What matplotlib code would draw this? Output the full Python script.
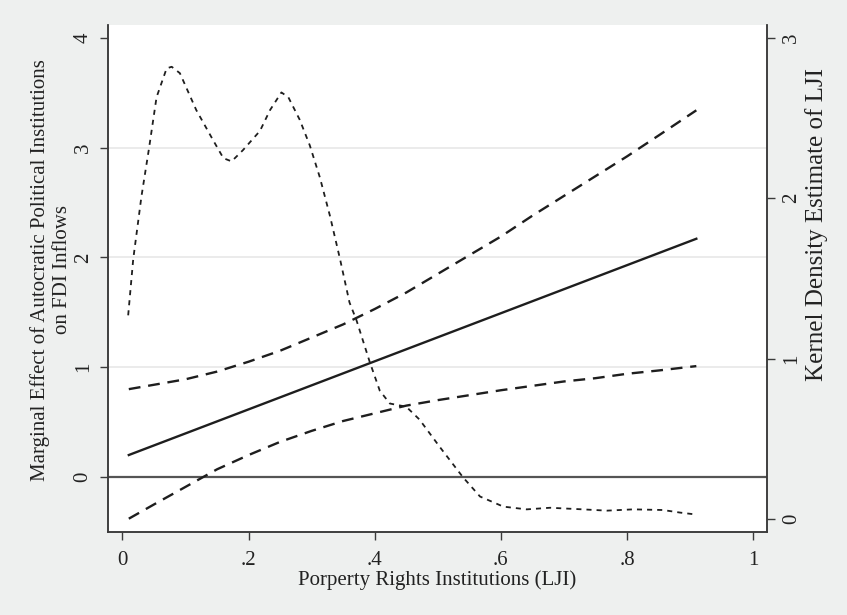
import numpy as np
import matplotlib.pyplot as plt

plt.rcParams['font.family'] = ['Liberation Serif', 'DejaVu Serif']
plt.rcParams['font.size'] = 15

# marginal effect and 95% confidence band
lji = [0.01, 0.05, 0.10, 0.15, 0.20, 0.25, 0.30, 0.35, 0.40, 0.45,
       0.50, 0.55, 0.60, 0.65, 0.70, 0.75, 0.80, 0.85, 0.91]
upper = [0.80, 0.84, 0.89, 0.96, 1.05, 1.15, 1.27, 1.39, 1.53, 1.68,
         1.85, 2.02, 2.19, 2.38, 2.56, 2.74, 2.92, 3.11, 3.34]
lower = [-0.38, -0.25, -0.09, 0.07, 0.20, 0.32, 0.42, 0.51, 0.58, 0.65,
         0.70, 0.745, 0.79, 0.83, 0.87, 0.90, 0.94, 0.97, 1.01]
me_x = [0.01, 0.91]
me_y = [0.20, 2.17]

# kernel density of LJI
kd_x = [0.009, 0.017, 0.030, 0.042, 0.054, 0.070, 0.078, 0.091, 0.117, 0.144,
        0.160, 0.173, 0.191, 0.218, 0.234, 0.252, 0.263, 0.281, 0.297, 0.313,
        0.329, 0.345, 0.360, 0.371, 0.392, 0.408, 0.424, 0.450, 0.471, 0.503,
        0.540, 0.567, 0.604, 0.641, 0.678, 0.730, 0.768, 0.810, 0.857, 0.884,
        0.905]
kd_y = [1.27, 1.62, 2.01, 2.31, 2.63, 2.81, 2.82, 2.78, 2.55, 2.36,
        2.25, 2.23, 2.30, 2.42, 2.55, 2.66, 2.63, 2.49, 2.33, 2.13,
        1.89, 1.62, 1.35, 1.24, 0.98, 0.80, 0.72, 0.70, 0.62, 0.45,
        0.26, 0.14, 0.077, 0.06, 0.07, 0.06, 0.052, 0.06, 0.056, 0.04,
        0.03]

ink = '#1e1e1e'
axis_col = '#3a3a3a'
txt = '#222222'
bg = '#eef0ef'

fig = plt.figure(figsize=(8.47, 6.15), dpi=100, facecolor=bg)
ax = fig.add_axes([0.1275, 0.135, 0.778, 0.8245])
ax.set_facecolor('white')

ax.set_xlim(-0.023, 1.022)
ax.set_ylim(-0.501, 4.118)
ax.set_yticks([0, 1, 2, 3, 4])
ax.set_xticks([0, 0.2, 0.4, 0.6, 0.8, 1.0])
ax.set_xticklabels(['0', '.2', '.4', '.6', '.8', '1'])

for yv in [1, 2, 3]:
    ax.axhline(yv, color='#e8e8e8', lw=1.2, zorder=0)
ax.axhline(0, color='#555555', lw=1.6, zorder=1)

ax.plot(me_x, me_y, color=ink, lw=1.7, zorder=3)
ax.plot(lji, upper, color=ink, lw=1.7, dashes=(5.0, 3.3), zorder=3)
ax.plot(lji, lower, color=ink, lw=1.7, dashes=(5.0, 3.3), zorder=3)

ax2 = ax.twinx()
ax2.set_ylim(-0.081, 3.081)
ax2.set_yticks([0, 1, 2, 3])
ax2.plot(kd_x, kd_y, color=ink, lw=1.3, dashes=(2.8, 2.8), zorder=3)

for a in (ax, ax2):
    a.spines['top'].set_visible(False)
    for s in ('left', 'right', 'bottom'):
        a.spines[s].set_color(axis_col)
        a.spines[s].set_linewidth(1.1)

ax.tick_params(axis='both', length=6, width=1, color=axis_col, labelcolor=txt)
ax.tick_params(axis='y', pad=5, labelrotation=90)
ax.tick_params(axis='x', pad=8)
ax2.tick_params(axis='y', length=6, width=1, color=axis_col, labelcolor=txt,
                pad=5, labelrotation=90)
for lab in ax.get_yticklabels():
    lab.set_va('center')
for lab in ax2.get_yticklabels():
    lab.set_va('center')

ax.set_xlabel('Porperty Rights Institutions (LJI)', color=txt)
ax.xaxis.set_label_coords(0.5, -0.076)
ax.set_ylabel('Marginal Effect of Autocratic Political Institutions\non FDI Inflows',
              color=txt, linespacing=1.25)
ax.yaxis.set_label_coords(-0.054, 0.517)
ax2.set_ylabel('Kernel Density Estimate of LJI', color=txt, fontsize=18)
ax2.yaxis.set_label_coords(1.058, 0.607)

fig.savefig('out.png', dpi=100, facecolor=bg)
